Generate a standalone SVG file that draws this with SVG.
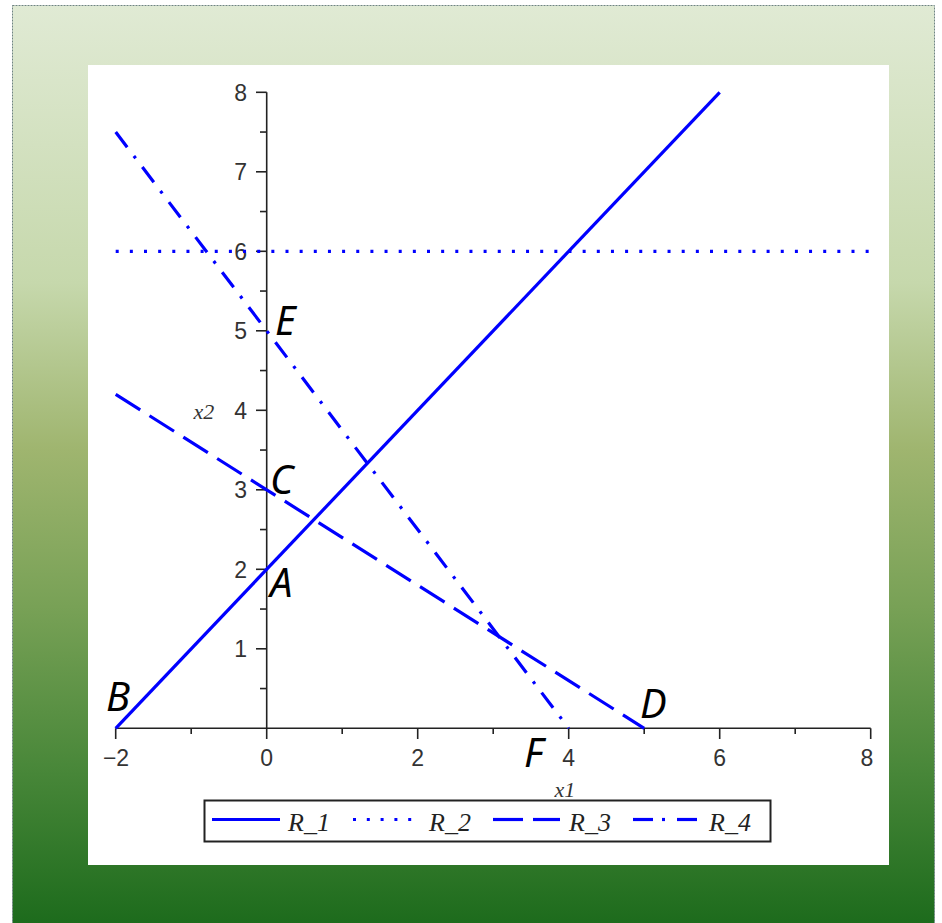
<svg xmlns="http://www.w3.org/2000/svg" width="942" height="923" viewBox="0 0 942 923">
  <defs>
    <linearGradient id="bg" x1="0" y1="0" x2="0" y2="1">
      <stop offset="0" stop-color="#e0ead4"/>
      <stop offset="0.3" stop-color="#c6d8ac"/>
      <stop offset="0.48" stop-color="#9fb56f"/>
      <stop offset="0.65" stop-color="#78a156"/>
      <stop offset="0.82" stop-color="#4a883a"/>
      <stop offset="1" stop-color="#1b6a1b"/>
    </linearGradient>
    <style>
      .ax { stroke: #222; stroke-width: 1.6; fill: none; }
      .tk { stroke: #222; stroke-width: 1.6; }
      .num { font-family: "Liberation Sans", Arial, sans-serif; font-size: 23px; fill: #333; }
      .nl { text-anchor: middle; }
      .nr { text-anchor: end; }
      .axl { font-family: "Liberation Serif", "Times New Roman", serif; font-style: italic; font-size: 22px; fill: #333; text-anchor: middle; }
      .pt { font-family: "Noto Sans", "Open Sans", sans-serif; font-style: italic; font-size: 40px; fill: #000; }
      .ln { stroke: #0000ff; stroke-width: 3.2; fill: none; }
      .r2 { stroke-dasharray: 3 11.15; }
      .r3 { stroke-dasharray: 29 11; }
      .r4 { stroke-dasharray: 19 11 3 11; }
      .lg { font-family: "Liberation Serif", "Times New Roman", serif; font-style: italic; font-size: 26px; fill: #222; }
    </style>
  </defs>

  <!-- background -->
  <rect x="12.5" y="5.5" width="922" height="925" fill="url(#bg)" stroke="#6f8482" stroke-width="1" stroke-dasharray="2 1"/>
  <rect x="88" y="65" width="801" height="800" fill="#ffffff"/>

  <!-- axes -->
  <g id="axes">
    <line class="ax" x1="115.7" y1="728.3" x2="870.7" y2="728.3"/>
    <line class="ax" x1="266.7" y1="92.3" x2="266.7" y2="728.3"/>
    <g class="tk">
      <line x1="115.7" y1="728.3" x2="115.7" y2="739"/>
      <line x1="191.2" y1="728.3" x2="191.2" y2="734"/>
      <line x1="266.7" y1="728.3" x2="266.7" y2="739"/>
      <line x1="342.2" y1="728.3" x2="342.2" y2="734"/>
      <line x1="417.7" y1="728.3" x2="417.7" y2="739"/>
      <line x1="493.2" y1="728.3" x2="493.2" y2="734"/>
      <line x1="568.7" y1="728.3" x2="568.7" y2="739"/>
      <line x1="644.2" y1="728.3" x2="644.2" y2="734"/>
      <line x1="719.7" y1="728.3" x2="719.7" y2="739"/>
      <line x1="795.2" y1="728.3" x2="795.2" y2="734"/>
      <line x1="870.7" y1="728.3" x2="870.7" y2="739"/>
    </g>
    <g class="tk">
      <line x1="256" y1="648.8" x2="266.7" y2="648.8"/>
      <line x1="260" y1="688.55" x2="266.7" y2="688.55"/>
      <line x1="260" y1="609.05" x2="266.7" y2="609.05"/>
      <line x1="256" y1="569.3" x2="266.7" y2="569.3"/>
      <line x1="260" y1="529.55" x2="266.7" y2="529.55"/>
      <line x1="256" y1="489.8" x2="266.7" y2="489.8"/>
      <line x1="260" y1="450.05" x2="266.7" y2="450.05"/>
      <line x1="256" y1="410.3" x2="266.7" y2="410.3"/>
      <line x1="260" y1="370.55" x2="266.7" y2="370.55"/>
      <line x1="256" y1="330.8" x2="266.7" y2="330.8"/>
      <line x1="260" y1="291.05" x2="266.7" y2="291.05"/>
      <line x1="256" y1="251.3" x2="266.7" y2="251.3"/>
      <line x1="260" y1="211.55" x2="266.7" y2="211.55"/>
      <line x1="256" y1="171.8" x2="266.7" y2="171.8"/>
      <line x1="260" y1="132.05" x2="266.7" y2="132.05"/>
      <line x1="256" y1="92.3" x2="266.7" y2="92.3"/>
    </g>
    <g class="num nl">
      <text x="116" y="766">−2</text>
      <text x="266.7" y="766">0</text>
      <text x="417.7" y="766">2</text>
      <text x="568.7" y="766">4</text>
      <text x="719.7" y="766">6</text>
      <text x="867" y="766">8</text>
    </g>
    <g class="num nr">
      <text x="247" y="657">1</text>
      <text x="247" y="577.5">2</text>
      <text x="247" y="498">3</text>
      <text x="247" y="418.5">4</text>
      <text x="247" y="339">5</text>
      <text x="247" y="259.5">6</text>
      <text x="247" y="180">7</text>
      <text x="247" y="100.5">8</text>
    </g>
    <text class="axl" x="204" y="419">x2</text>
    <text class="axl" x="565" y="797">x1</text>
  </g>

  <!-- curves -->
  <g id="connectors">
    <line id="R_1" class="ln" x1="115.7" y1="728.3" x2="719.7" y2="92.3"/>
    <line id="R_2" class="ln r2" x1="115.7" y1="251.3" x2="870.7" y2="251.3"/>
    <line id="R_3" class="ln r3" x1="115.7" y1="394.4" x2="644.2" y2="728.3"/>
    <line id="R_4" class="ln r4" x1="115.7" y1="132.05" x2="568.7" y2="728.3"/>
  </g>

  <!-- point labels -->
  <g id="pointA"><text class="pt" x="270" y="597">A</text></g>
  <g id="pointB"><text class="pt" x="106" y="711">B</text></g>
  <g id="pointC"><text class="pt" x="270" y="494">C</text></g>
  <g id="pointD"><text class="pt" x="640" y="718">D</text></g>
  <g id="pointE"><text class="pt" x="275" y="335">E</text></g>
  <g id="pointF"><text class="pt" x="524" y="767">F</text></g>

  <!-- legend -->
  <g id="legend">
    <rect x="204.5" y="800.5" width="566" height="41" fill="#ffffff" stroke="#222" stroke-width="2"/>
    <line class="ln" x1="212" y1="819.5" x2="280" y2="819.5"/>
    <text class="lg" x="288" y="831">R_1</text>
    <line class="ln" x1="353" y1="819.5" x2="412" y2="819.5" style="stroke-dasharray:3 10.8"/>
    <text class="lg" x="429" y="831">R_2</text>
    <line class="ln" x1="493" y1="819.5" x2="523" y2="819.5"/>
    <line class="ln" x1="533" y1="819.5" x2="560" y2="819.5"/>
    <text class="lg" x="569" y="831">R_3</text>
    <line class="ln" x1="633" y1="819.5" x2="653" y2="819.5"/>
    <line class="ln" x1="662" y1="819.5" x2="665" y2="819.5"/>
    <line class="ln" x1="677" y1="819.5" x2="697" y2="819.5"/>
    <text class="lg" x="709" y="831">R_4</text>
  </g>
</svg>
